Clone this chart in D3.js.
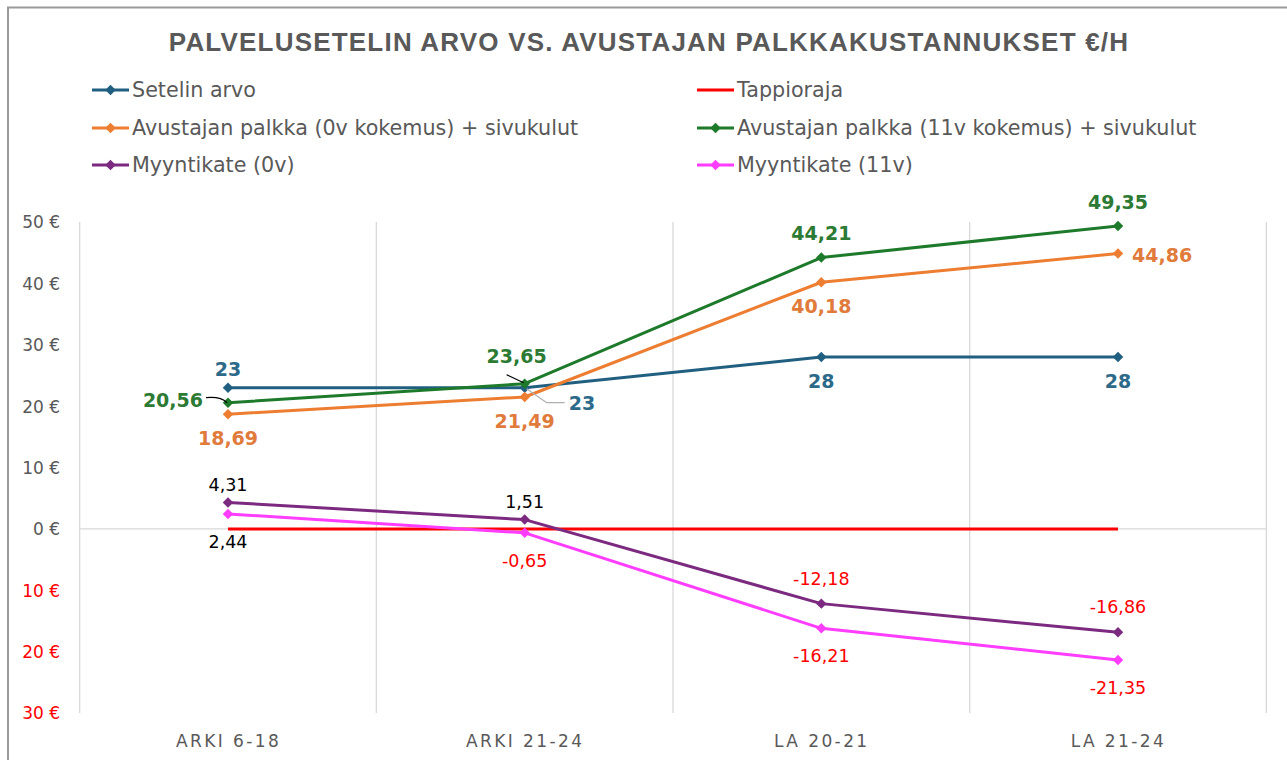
<!DOCTYPE html>
<html><head><meta charset="utf-8">
<script src="https://cdn.jsdelivr.net/npm/d3@7"></script>
<style>
body{margin:0;background:#fff;}
svg{display:block;font-family:"DejaVu Sans",sans-serif;}
</style></head>
<body><svg id="chart" width="1287" height="760"></svg>
<script>
const categories = ["ARKI 6-18","ARKI 21-24","LA 20-21","LA 21-24"];
const seriesNames = ["Setelin arvo","Tappioraja","Avustajan palkka (0v kokemus) + sivukulut","Avustajan palkka (11v kokemus) + sivukulut","Myyntikate (0v)","Myyntikate (11v)"];
const setelinArvo = [23,23,28,28];
const tappioraja = [0,0,0,0];
const palkka0v = [18.69,21.49,40.18,44.86];
const palkka11v = [20.56,23.65,44.21,49.35];
const myyntikate0v = [4.31,1.51,-12.18,-16.86];
const myyntikate11v = [2.44,-0.65,-16.21,-21.35];
const yTicks = [50,40,30,20,10,0,-10,-20,-30];
const title = "PALVELUSETELIN ARVO VS. AVUSTAJAN PALKKAKUSTANNUKSET €/H";

const colors = ["#215f80","#ff0000","#ed7d31","#1e7a2b","#7b2a80","#ff3dff"];
const labelColors = ["#2d6a8a",null,"#e07b3c","#2c7a33",null,null];
const labelPos = [
  ["above","leaderRight","below","below"],
  null,
  ["below","below","below","right"],
  ["leaderLeft","leaderAbove","above","above"],
  ["above","above","above","above"],
  ["below","below","below","below"]
];
const seriesValues = [setelinArvo,tappioraja,palkka0v,palkka11v,myyntikate0v,myyntikate11v];

const svg = d3.select("#chart");
// frame
svg.append("rect").attr("x",8).attr("y",7.5).attr("width",1290).attr("height",770)
  .attr("fill","none").attr("stroke","#9a9a9a").attr("stroke-width",2);

svg.append("text").attr("x",649).attr("y",51).attr("text-anchor","middle")
  .attr("font-family","Liberation Sans, Arial, sans-serif")
  .attr("font-size",26).attr("font-weight","bold").attr("letter-spacing",1.2)
  .attr("fill","#595959").text(title);

const x = d3.scalePoint().domain(categories).range([228,1118]);
const step = x.step();
const y = d3.scaleLinear().domain([-30,50]).range([713,222]);

// vertical gridlines at band edges
const edges = categories.map(c=>x(c)-step/2).concat([x(categories[3])+step/2]);
svg.append("g").selectAll("line").data(edges).join("line")
  .attr("x1",d=>d).attr("x2",d=>d).attr("y1",y(50)).attr("y2",y(-30))
  .attr("stroke","#d9d9d9").attr("stroke-width",1.3);
// zero axis line
svg.append("line").attr("x1",edges[0]).attr("x2",edges[4]).attr("y1",y(0)).attr("y2",y(0))
  .attr("stroke","#d9d9d9").attr("stroke-width",1.3);

// y axis labels
const yAxis = d3.axisLeft(y).tickValues(yTicks).tickSize(0).tickPadding(0)
  .tickFormat(d=>Math.abs(d)+" €");
const ya = svg.append("g").attr("transform","translate(60,0)").call(yAxis);
ya.select(".domain").remove();
ya.selectAll("text").attr("font-size",17).attr("font-family","DejaVu Sans, sans-serif")
  .attr("fill",d=>d<0?"#ff0000":"#595959").attr("dy","0.35em");

// x axis labels
const xAxis = d3.axisBottom(x).tickSize(0).tickPadding(0);
const xa = svg.append("g").attr("transform","translate(0,741)").call(xAxis);
xa.select(".domain").remove();
xa.selectAll("text").attr("font-size",17).attr("letter-spacing",2.4)
  .attr("font-family","DejaVu Sans, sans-serif").attr("fill","#595959").attr("dy","0.35em");

// lines
const line = d3.line().x((d,i)=>x(categories[i])).y(d=>y(d));
const diamond = d3.symbol().type(d3.symbolDiamond2).size(70);
const drawOrder = [1,0,2,3,4,5];
drawOrder.forEach(si=>{
  const vals = seriesValues[si];
  svg.append("path").datum(vals).attr("d",line).attr("fill","none")
    .attr("stroke",colors[si]).attr("stroke-width",3).attr("stroke-linejoin","round");
  if(si!==1){
    svg.append("g").selectAll("path").data(vals).join("path")
      .attr("transform",(d,i)=>`translate(${x(categories[i])},${y(d)})`)
      .attr("d",diamond).attr("fill",colors[si]);
  }
});

// labels
const fmt = v => String(v).replace(".",",");
const lg = svg.append("g");
seriesValues.forEach((vals,si)=>{
  if(!labelPos[si]) return;
  const bold = si<4;
  vals.forEach((v,i)=>{
    const px = x(categories[i]), py = y(v);
    const pos = labelPos[si][i];
    let tx=px, ty=py, anchor="middle";
    if(pos==="above"){ ty = py-(v<0?25:si===0?18:bold?24:18); }
    else if(pos==="below"){ ty = py+(bold?24:28); }
    else if(pos==="right"){ tx = px+14; ty=py+2; anchor="start"; }
    else if(pos==="leaderLeft"){
      tx = px-25; ty=py-2; anchor="end";
      lg.append("path").attr("d",`M${px-22},${py-5} C${px-12},${py-6} ${px-6},${py-5} ${px-1},${py}`)
        .attr("fill","none").attr("stroke","#000").attr("stroke-width",1.3);
    }
    else if(pos==="leaderAbove"){
      tx = px-8; ty = py-27;
      lg.append("line").attr("x1",px-18).attr("y1",py-9).attr("x2",px-1).attr("y2",py-1)
        .attr("stroke","#000").attr("stroke-width",1.3);
    }
    else if(pos==="leaderRight"){
      tx = px+44; ty=py+16; anchor="start";
      lg.append("path").attr("d",`M${px+2},${py+1} L${px+22},${py+15} L${px+40},${py+15}`)
        .attr("fill","none").attr("stroke","#b0b0b0").attr("stroke-width",1.3);
    }
    let col = labelColors[si];
    if(!col) col = v<0 ? "#ff0000" : "#000000";
    lg.append("text").attr("x",tx).attr("y",ty).attr("dy","0.35em")
      .attr("text-anchor",anchor).attr("font-size",bold?19:17.5)
      .attr("font-weight",bold?"bold":"normal").attr("fill",col).text(fmt(v));
  });
});

// legend
const legendCols = [92,697];
const legendRows = [90,128,165];
const legendOrder = [[0,1],[2,3],[4,5]];
legendOrder.forEach((row,ri)=>{
  row.forEach((si,ci)=>{
    const lx = legendCols[ci], ly = legendRows[ri];
    const g = svg.append("g").attr("transform",`translate(${lx},${ly})`);
    g.append("line").attr("x1",0).attr("x2",37).attr("stroke",colors[si]).attr("stroke-width",3);
    if(si!==1) g.append("path").attr("transform","translate(18.5,0)").attr("d",diamond).attr("fill",colors[si]);
    g.append("text").attr("x",40).attr("dy","0.35em").attr("font-size",20.7)
      .attr("fill","#595959").text(seriesNames[si]);
  });
});
</script></body></html>
